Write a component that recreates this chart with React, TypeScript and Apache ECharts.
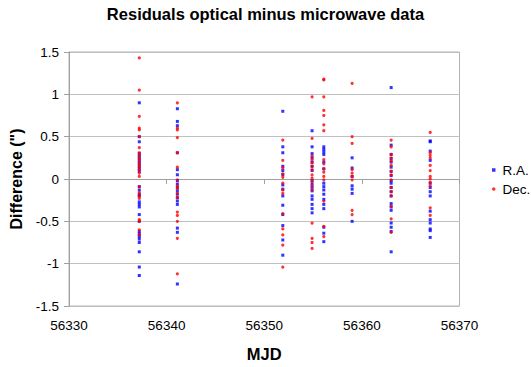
import React, { useEffect, useRef } from "react";
import * as echarts from "echarts";

// Observation epochs (MJD) of each cluster
const epochs = [56337.2, 56341.1, 56351.9, 56354.9, 56356.1, 56359.0, 56363.0, 56367.0];

// R.A. residuals (arcsec), one list per epoch
const raByEpoch: number[][] = [
  [0.90, 0.50, 0.44, 0.30, 0.27, 0.24, 0.21, 0.18, 0.15, 0.12, 0.09, -0.09, -0.13, -0.18, -0.20, -0.27, -0.30, -0.33, -0.42, -0.50, -0.62, -0.65, -0.68, -0.71, -0.75, -0.86, -1.04, -1.14],
  [0.83, 0.68, 0.63, 0.31, 0.11, 0.05, -0.02, -0.06, -0.10, -0.14, -0.18, -0.22, -0.26, -0.30, -0.58, -0.63, -1.24],
  [0.80, 0.38, 0.31, 0.15, 0.10, 0.05, -0.07, -0.12, -0.20, -0.31, -0.42, -0.55, -0.72, -0.90],
  [0.57, 0.38, 0.30, 0.25, 0.20, 0.15, 0.10, -0.02, -0.06, -0.10, -0.14, -0.20, -0.24, -0.30, -0.35, -0.40],
  [0.38, 0.35, 0.32, 0.29, 0.20, 0.12, -0.05, -0.09, -0.13, -0.18, -0.24, -0.30, -0.35, -0.57, -0.64, -0.74],
  [0.25, 0.13, 0.03, -0.08, -0.12, -0.17, -0.50],
  [1.08, 0.40, 0.29, 0.24, 0.20, 0.14, 0.09, 0.04, -0.02, -0.05, -0.10, -0.15, -0.20, -0.29, -0.33, -0.37, -0.52, -0.57, -0.62, -0.86],
  [0.45, 0.44, 0.33, 0.22, -0.05, -0.10, -0.15, -0.20, -0.38, -0.48, -0.52, -0.59, -0.61, -0.69],
];

// Dec. residuals (arcsec), one list per epoch
const decByEpoch: number[][] = [
  [1.43, 1.05, 0.74, 0.60, 0.58, 0.50, 0.37, 0.31, 0.27, 0.24, 0.20, 0.17, 0.14, 0.11, 0.07, 0.03, -0.09, -0.16, -0.20, -0.23, -0.48, -0.50, -0.60, -0.66],
  [0.90, 0.60, 0.58, 0.49, 0.31, 0.14, -0.01, -0.08, -0.11, -0.17, -0.22, -0.39, -0.43, -0.50, -0.70, -1.12],
  [0.46, 0.22, 0.13, 0.06, 0.02, -0.05, -0.13, -0.17, -0.41, -0.59, -0.66, -0.78, -1.04],
  [0.97, 0.48, 0.27, 0.23, 0.19, 0.15, 0.11, 0.05, 0.01, -0.03, -0.08, -0.13, -0.52, -0.70, -0.75, -0.82],
  [1.17, 1.18, 0.97, 0.81, 0.75, 0.64, 0.57, 0.23, 0.18, 0.12, 0.08, 0.03, -0.01, -0.26, -0.56, -0.68],
  [1.13, 0.50, 0.42, 0.11, 0.07, 0.03, -0.01, -0.37, -0.42],
  [0.46, 0.38, 0.29, 0.25, 0.21, 0.16, 0.09, 0.05, -0.01, -0.10, -0.15, -0.20, -0.32, -0.47, -0.63],
  [0.55, 0.31, 0.28, 0.25, 0.16, 0.10, 0.03, 0.00, -0.04, -0.08, -0.34, -0.43],
];

const seriesNames = ["R.A.", "Dec."];
const titleText = "Residuals optical minus microwave data";
const xName = "MJD";
const yName = 'Difference (")';

const FONT = "'Liberation Sans', Arial, sans-serif";

function toPairs(byEpoch: number[][]): number[][] {
  const out: number[][] = [];
  byEpoch.forEach((vals, i) => vals.forEach((v) => out.push([epochs[i], v])));
  return out;
}

export default function App() {
  const ref = useRef<HTMLDivElement>(null);
  useEffect(() => {
    if (!ref.current) return;
    const chart = echarts.init(ref.current, undefined, { renderer: "svg" });
    chart.setOption({
      animation: false,
      backgroundColor: "#ffffff",
      textStyle: { fontFamily: FONT },
      title: {
        text: titleText,
        left: "center",
        top: 5,
        padding: 0,
        textStyle: { fontFamily: FONT, fontSize: 16.5, fontWeight: "bold", color: "#000" },
      },
      legend: {
        orient: "vertical",
        left: 492,
        top: 163,
        itemWidth: 3.5,
        itemHeight: 3.5,
        itemGap: 5,
        padding: 0,
        data: [
          { name: seriesNames[0], icon: "rect" },
          { name: seriesNames[1], icon: "circle" },
        ],
        textStyle: { fontFamily: FONT, fontSize: 13.5, color: "#000", padding: [0, 0, 0, 2] },
      },
      grid: {
        left: 69,
        right: 71.5,
        top: 52,
        bottom: 61,
        show: true,
        borderColor: "#b4b4b4",
        borderWidth: 1,
        containLabel: false,
      },
      xAxis: {
        type: "value",
        min: 56330,
        max: 56370,
        interval: 10,
        name: xName,
        nameLocation: "middle",
        nameGap: 39,
        nameTextStyle: { fontFamily: FONT, fontSize: 16.5, fontWeight: "bold", color: "#000" },
        axisLine: { show: true, lineStyle: { color: "#a0a0a0", width: 1 } },
        axisTick: { show: true, inside: false, length: 5, lineStyle: { color: "#a0a0a0" } },
        axisLabel: {
          margin: 12,
          fontFamily: FONT,
          fontSize: 13.5,
          color: "#000",
          formatter: (v: number) => String(v),
        },
        splitLine: { show: false },
      },
      yAxis: {
        type: "value",
        min: -1.5,
        max: 1.5,
        interval: 0.5,
        name: yName,
        nameLocation: "middle",
        nameGap: 41,
        nameTextStyle: { fontFamily: FONT, fontSize: 16, fontWeight: "bold", color: "#000" },
        axisLine: { show: true, lineStyle: { color: "#a0a0a0", width: 1 } },
        axisTick: { show: true, inside: false, length: 5, lineStyle: { color: "#a0a0a0" } },
        axisLabel: {
          margin: 10,
          fontFamily: FONT,
          fontSize: 13.5,
          color: "#000",
          formatter: (v: number) => String(v),
        },
        splitLine: { show: true, lineStyle: { color: "#c0c0c0", width: 1 } },
      },
      series: [
        {
          name: seriesNames[0],
          type: "scatter",
          symbol: "rect",
          symbolSize: 3,
          itemStyle: { color: "#0000ff" },
          data: toPairs(raByEpoch),
        },
        {
          name: seriesNames[1],
          type: "scatter",
          symbol: "circle",
          symbolSize: 3.2,
          itemStyle: { color: "#ff0000" },
          data: toPairs(decByEpoch),
        },
      ],
    });
    return () => chart.dispose();
  }, []);
  return (
    <div
      ref={ref}
      style={{ position: "fixed", left: 0, top: 0, width: 531, height: 367, background: "#fff" }}
    />
  );
}
